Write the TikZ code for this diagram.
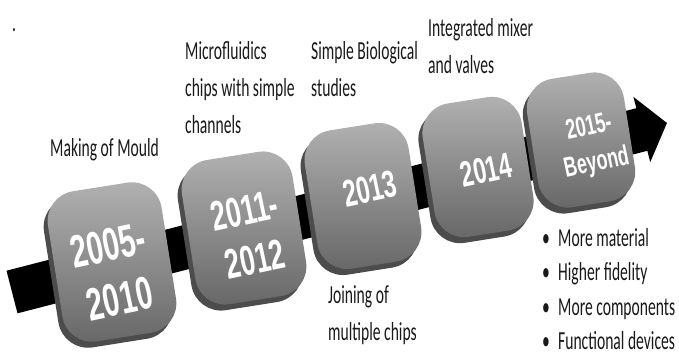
\documentclass[tikz,border=0pt]{standalone}
\usepackage{fontspec}
\setmainfont{Carlito}
\newfontfamily\labelfont[FakeStretch=0.6]{Carlito}
\newfontfamily\yearfont[FakeStretch=0.64]{Liberation Sans}
\usepackage{tikz}
\usetikzlibrary{arrows.meta}
\newcommand{\Bul}{\makebox[16pt][l]{\textbullet}}

\begin{document}
\begin{tikzpicture}[x=1pt, y=-1pt,
  tile/.style={rounded corners=30pt, top color=black!30, bottom color=black!60, inner sep=0pt},
  rim/.style={fill=black!70, rounded corners=30pt, inner sep=0pt},
  year/.style={text=white, align=center, inner sep=0pt},
  note/.style={anchor=west, align=left, inner sep=0pt, text=black!90,
    font=\labelfont\fontsize{26}{37}\selectfont}]
\useasboundingbox (0,0) rectangle (679,359);

% band with the arrow
\coordinate (tail) at (12,292);
\coordinate (head) at (667,123);
\draw[line width=44pt, -{Triangle[length=26pt, width=66pt]}] (tail) -- (head);

% tiles
\node[rim, minimum width=115pt, minimum height=152pt, rotate=9] (b1back) at (108,268) {};
\node[tile, minimum width=115pt, minimum height=152pt, rotate=9] (b1) at (112,262) {};
\node[rim, minimum width=112pt, minimum height=146pt, rotate=9] (b2back) at (240,234) {};
\node[tile, minimum width=112pt, minimum height=146pt, rotate=9] (b2) at (244,228) {};
\node[rim, minimum width=105pt, minimum height=140pt, rotate=9] (b3back) at (359,202) {};
\node[tile, minimum width=105pt, minimum height=140pt, rotate=9] (b3) at (363,196) {};
\node[rim, minimum width=100pt, minimum height=135pt, rotate=9] (b4back) at (474,173) {};
\node[tile, minimum width=100pt, minimum height=135pt, rotate=9] (b4) at (478,167) {};
\node[rim, minimum width=98pt, minimum height=130pt, rotate=9] (b5back) at (577,146) {};
\node[tile, minimum width=98pt, minimum height=130pt, rotate=9] (b5) at (581,140) {};

% years
\node[year, rotate=12, font=\yearfont\bfseries\fontsize{46}{55}\selectfont] (y1) at (114,272) {2005-\\2010};
\node[year, rotate=12, font=\yearfont\bfseries\fontsize{42}{50}\selectfont] (y2) at (250,235) {2011-\\2012};
\node[year, rotate=12, font=\yearfont\bfseries\fontsize{38}{40}\selectfont] (y3) at (370,189) {2013};
\node[year, rotate=12, font=\yearfont\bfseries\fontsize{36}{40}\selectfont] (y4) at (486,170) {2014};
\node[year, rotate=12, font=\yearfont\bfseries\fontsize{28}{37}\selectfont] (y5) at (593,146) {2015-\\Beyond};

% captions
\node[note] (dot) at (12,30) {.};
\node[note] (mould) at (50,150) {Making of Mould};
\node[note] (micro) at (185,88) {Microfluidics\\chips with simple\\channels};
\node[note] (bio) at (311,69) {Simple Biological\\studies};
\node[note] (mixer) at (428,46) {Integrated mixer\\and valves};
\node[note] (join) at (328,315) {Joining of\\multiple chips};
\node[note, font=\labelfont\fontsize{26}{34.5}\selectfont] (future) at (542,289)
  {\Bul More material\\\Bul Higher fidelity\\\Bul More components\\\Bul Functional devices};
\end{tikzpicture}
\end{document}
